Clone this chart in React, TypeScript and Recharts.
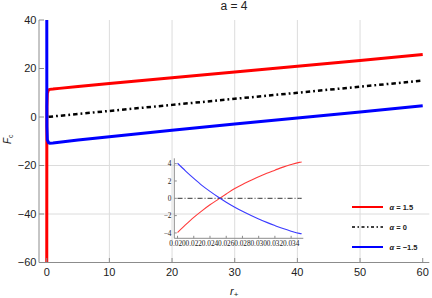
import React from 'react';
import { LineChart, Line, XAxis, YAxis, ReferenceLine, Legend } from 'recharts';

// ---------- main chart data ----------
const rPlus = [0.002, 0.02, 0.034, 0.1, 0.3, 0.5, 1, 2, 5, 10, 20, 30, 40, 50, 60];
const fcAlphaPos = [-100, -4.0, 4.2, 9.8, 11.2, 11.4, 11.5, 11.8, 12.6, 13.8, 16.2, 18.6, 20.9, 23.3, 25.8];
const fcAlphaZero = [null, null, null, null, 0.08, 0.13, 0.25, 0.5, 1.25, 2.5, 5, 7.5, 10, 12.5, 15];
const fcAlphaNeg = [100, 4.05, -4.0, -9.4, -10.6, -10.8, -10.7, -10.4, -9.5, -8.1, -5.5, -2.9, -0.4, 2.1, 4.6];
const seriesNames = ['α = 1.5', 'α = 0', 'α = −1.5'];
const chartTitle = 'a = 4';

const xTicksMajor = [0, 10, 20, 30, 40, 50, 60];
const xTicksMinor = [0, 2, 4, 6, 8, 10, 12, 14, 16, 18, 20, 22, 24, 26, 28, 30, 32, 34, 36, 38, 40, 42, 44, 46, 48, 50, 52, 54, 56, 58, 60];
const xTicksTop = [0, 5, 10, 15, 20, 25, 30, 35, 40, 45, 50, 55, 60];
const yTicksMajor = [-60, -40, -20, 0, 20, 40];
const yTicksMinor = [-60, -55, -50, -45, -40, -35, -30, -25, -20, -15, -10, -5, 0, 5, 10, 15, 20, 25, 30, 35, 40];
const gridX = [10, 20, 30, 40, 50];
const gridY = [-40, -20];

// ---------- inset data ----------
const rInset = [0.02, 0.021, 0.022, 0.023, 0.024, 0.025, 0.026, 0.027, 0.028, 0.029, 0.03, 0.031, 0.032, 0.033, 0.034, 0.035, 0.0353];
const insetPos = [-3.95, -3.05, -2.2, -1.45, -0.75, -0.12, 0.5, 1.1, 1.6, 2.05, 2.5, 2.9, 3.25, 3.6, 3.9, 4.15, 4.2];
const insetZero = [0, 0, 0, 0, 0, 0, 0, 0, 0, 0, 0, 0, 0, 0, 0, 0, 0];
const insetNeg = [4.05, 3.15, 2.3, 1.5, 0.8, 0.15, -0.45, -1.0, -1.5, -1.95, -2.38, -2.78, -3.15, -3.5, -3.8, -4.05, -4.1];
const insetXTicks = [0.02, 0.022, 0.024, 0.026, 0.028, 0.03, 0.032, 0.034];
const insetXMinor = [0.02, 0.0205, 0.021, 0.0215, 0.022, 0.0225, 0.023, 0.0235, 0.024, 0.0245, 0.025, 0.0255, 0.026, 0.0265, 0.027, 0.0275, 0.028, 0.0285, 0.029, 0.0295, 0.03, 0.0305, 0.031, 0.0315, 0.032, 0.0325, 0.033, 0.0335, 0.034, 0.0345, 0.035];
const insetYTicks = [-4, -2, 0, 2, 4];
const insetYMinor = [-4.5, -4, -3.5, -3, -2.5, -2, -1.5, -1, -0.5, 0, 0.5, 1, 1.5, 2, 2.5, 3, 3.5, 4, 4.5];

const mainData = rPlus.map((r, i) => ({ r, pos: fcAlphaPos[i], zero: fcAlphaZero[i], neg: fcAlphaNeg[i] }));
const insetData = rInset.map((r, i) => ({ r, pos: insetPos[i], zero: insetZero[i], neg: insetNeg[i] }));

const FRAME = '#8c8c8c';
const GRID = '#dcdcdc';
const SANS = '"Liberation Sans", Arial, sans-serif';
const SERIF = '"Liberation Serif", "Times New Roman", serif';
const X_DOMAIN: [number, number] = [-1.23, 61.05];
const Y_DOMAIN: [number, number] = [-60, 40];
const IX_DOMAIN: [number, number] = [0.0196, 0.0355];
const IY_DOMAIN: [number, number] = [-4.62, 4.62];

const minus = (v: number) => String(v).replace('-', '\u2212');
const NoLabel = () => <g />;

const XLabel = (props: any) => {
  const vb = props.viewBox || {};
  return (
    <text x={vb.x + vb.width / 2} y={vb.y + 32} textAnchor="middle" fontFamily={SANS} fontSize={11} fill="#222">
      <tspan fontStyle="italic">r</tspan>
      <tspan fontSize={8} dy={2}>+</tspan>
    </text>
  );
};

const YLabel = (props: any) => {
  const vb = props.viewBox || {};
  const cx = 11;
  const cy = vb.y + vb.height / 2 - 2;
  return (
    <text x={cx} y={cy} transform={`rotate(-90, ${cx}, ${cy})`} textAnchor="middle" fontFamily={SANS} fontSize={10} fill="#222">
      <tspan fontStyle="italic">F</tspan>
      <tspan fontSize={7} dy={2}>c</tspan>
    </text>
  );
};

const LegendBox = (props: any) => {
  const payload: any[] = props.payload || [];
  const ordered = seriesNames
    .map((n) => payload.find((p: any) => p.value === n))
    .filter(Boolean);
  return (
    <div style={{ fontFamily: SANS, fontSize: 7.5, fontWeight: 'bold', color: '#222' }}>
      {ordered.map((entry: any, i: number) => {
        const dash = entry.payload && entry.payload.strokeDasharray;
        const text: string = entry.value;
        return (
          <div key={i} style={{ height: 20, display: 'flex', alignItems: 'center' }}>
            <svg width={31} height={6} style={{ display: 'block' }}>
              <line x1={0} y1={3} x2={31} y2={3} stroke={entry.color} strokeWidth={dash ? 1.6 : 2} strokeDasharray={dash ? '3 2.5 1.5 2.5' : undefined} />
            </svg>
            <span style={{ marginLeft: 7, whiteSpace: 'pre' }}>
              <i>{text.slice(0, 1)}</i>
              {text.slice(1)}
            </span>
          </div>
        );
      })}
    </div>
  );
};

export default function App() {
  return (
    <div style={{ position: 'absolute', left: 0, top: 0, width: 432, height: 298, background: '#fff' }}>
      <div
        style={{
          position: 'absolute', left: 39, top: -1, width: 390, textAlign: 'center',
          fontFamily: SANS, fontSize: 12, color: '#222', lineHeight: '14px', whiteSpace: 'pre',
        }}
      >
        {chartTitle}
      </div>
      <LineChart width={432} height={298} data={mainData} margin={{ top: 20, right: 2.7, left: 0, bottom: 15.5 }}>
        <XAxis
          xAxisId="x" dataKey="r" type="number" domain={X_DOMAIN} allowDataOverflow
          ticks={xTicksMajor} interval={0} height={20} tickSize={-4.5} tickMargin={10.5}
          stroke={FRAME} tick={{ fill: '#222', fontSize: 11, fontFamily: SANS }}
          label={XLabel}
        />
        <XAxis
          xAxisId="xm" type="number" domain={X_DOMAIN} allowDataOverflow mirror height={0}
          ticks={xTicksMinor} interval={0} tickSize={2.5} tick={NoLabel} axisLine={false} stroke={FRAME}
        />
        <XAxis
          xAxisId="xt" orientation="top" type="number" domain={X_DOMAIN} allowDataOverflow height={0}
          ticks={xTicksTop} interval={0} tickSize={-3} tick={NoLabel} stroke={FRAME}
        />
        <YAxis
          yAxisId="y" type="number" domain={Y_DOMAIN} allowDataOverflow width={39}
          ticks={yTicksMajor} interval={0} tickSize={-5} tickMargin={7.5} tickFormatter={minus}
          stroke={FRAME} tick={{ fill: '#222', fontSize: 11, fontFamily: SANS }}
          label={YLabel}
        />
        <YAxis
          yAxisId="ym" type="number" domain={Y_DOMAIN} allowDataOverflow mirror width={0}
          ticks={yTicksMinor} interval={0} tickSize={3} tick={NoLabel} axisLine={false} stroke={FRAME}
        />
        <YAxis
          yAxisId="yr" orientation="right" type="number" domain={Y_DOMAIN} allowDataOverflow width={0}
          ticks={yTicksMinor} interval={0} tickSize={-3} tick={NoLabel} stroke={FRAME}
        />
        {gridX.map((v) => (
          <ReferenceLine key={'gx' + v} x={v} xAxisId="x" yAxisId="y" stroke={GRID} strokeWidth={1} />
        ))}
        {gridY.map((v) => (
          <ReferenceLine key={'gy' + v} y={v} xAxisId="x" yAxisId="y" stroke={GRID} strokeWidth={1} />
        ))}
        <Legend
          layout="vertical" align="center" verticalAlign="middle" content={LegendBox}
          wrapperStyle={{ position: 'absolute', left: 351.5, top: 197.3, width: 80 }}
        />
        <Line xAxisId="x" yAxisId="y" dataKey="pos" name={seriesNames[0]} stroke="#ff0000" strokeWidth={3} dot={false} activeDot={false} isAnimationActive={false} />
        <Line xAxisId="x" yAxisId="y" dataKey="zero" name={seriesNames[1]} stroke="#000000" strokeWidth={2.5} strokeDasharray="4.5 3 1.8 3" dot={false} activeDot={false} isAnimationActive={false} />
        <Line xAxisId="x" yAxisId="y" dataKey="neg" name={seriesNames[2]} stroke="#0000ff" strokeWidth={3} dot={false} activeDot={false} isAnimationActive={false} />
      </LineChart>

      <div style={{ position: 'absolute', left: 150, top: 150 }}>
        <LineChart width={160} height={110} data={insetData} margin={{ top: 8.3, right: 6.7, left: 0, bottom: 9.7 }}>
          <XAxis
            xAxisId="ix" dataKey="r" type="number" domain={IX_DOMAIN} allowDataOverflow
            ticks={insetXTicks} interval={0} height={12} tickSize={-2.5} tickMargin={5.5}
            tickFormatter={(v: number) => v.toFixed(3)}
            stroke={FRAME} tick={{ fill: '#222', fontSize: 7.3, fontFamily: SERIF }}
          />
          <XAxis
            xAxisId="ixm" type="number" domain={IX_DOMAIN} allowDataOverflow mirror height={0}
            ticks={insetXMinor} interval={0} tickSize={1.5} tick={NoLabel} axisLine={false} stroke={FRAME}
          />
          <XAxis
            xAxisId="ixt" orientation="top" type="number" domain={IX_DOMAIN} allowDataOverflow height={0}
            ticks={insetXMinor} interval={0} tickSize={-1.5} tick={NoLabel} stroke={FRAME}
          />
          <XAxis
            xAxisId="ixt2" orientation="top" type="number" domain={IX_DOMAIN} allowDataOverflow height={0}
            ticks={insetXTicks} interval={0} tickSize={-2.5} tick={NoLabel} axisLine={false} stroke={FRAME}
          />
          <YAxis
            yAxisId="iy" type="number" domain={IY_DOMAIN} allowDataOverflow width={24.3}
            ticks={insetYTicks} interval={0} tickSize={-2.5} tickMargin={5.3} tickFormatter={minus}
            stroke={FRAME} tick={{ fill: '#222', fontSize: 7.3, fontFamily: SERIF }}
          />
          <YAxis
            yAxisId="iym" type="number" domain={IY_DOMAIN} allowDataOverflow mirror width={0}
            ticks={insetYMinor} interval={0} tickSize={1.5} tick={NoLabel} axisLine={false} stroke={FRAME}
          />
          <YAxis
            yAxisId="iyr" orientation="right" type="number" domain={IY_DOMAIN} allowDataOverflow width={0}
            ticks={insetYMinor} interval={0} tickSize={-1.5} tick={NoLabel} stroke={FRAME}
          />
          <YAxis
            yAxisId="iyr2" orientation="right" type="number" domain={IY_DOMAIN} allowDataOverflow width={0}
            ticks={insetYTicks} interval={0} tickSize={-2.5} tick={NoLabel} axisLine={false} stroke={FRAME}
          />
          <Line xAxisId="ix" yAxisId="iy" type="monotone" dataKey="pos" stroke="#ff3b3b" strokeWidth={1.1} dot={false} activeDot={false} isAnimationActive={false} />
          <Line xAxisId="ix" yAxisId="iy" type="monotone" dataKey="zero" stroke="#333333" strokeWidth={1} strokeDasharray="5 2 1 2" dot={false} activeDot={false} isAnimationActive={false} />
          <Line xAxisId="ix" yAxisId="iy" type="monotone" dataKey="neg" stroke="#3b3bff" strokeWidth={1.1} dot={false} activeDot={false} isAnimationActive={false} />
        </LineChart>
      </div>
    </div>
  );
}
